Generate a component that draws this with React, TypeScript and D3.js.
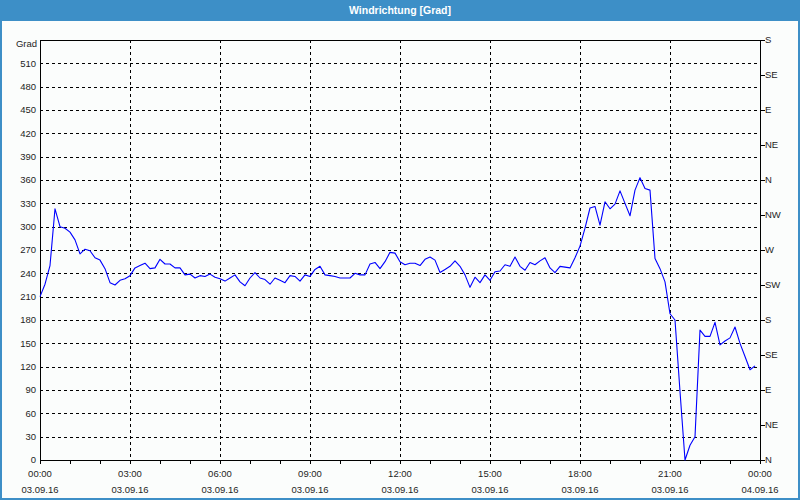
import React from 'react';
import * as d3 from 'd3';

const chartTitle = 'Windrichtung [Grad]';
const yAxisTitle = 'Grad';
const startTime = new Date(2016, 8, 3, 0, 0);
const endTime = new Date(2016, 8, 4, 0, 0);
const sampleMinutes = 10;

// wind direction in degrees, one sample every 10 minutes from 03.09.16 00:00
const windDir = [
  210, 226, 250, 323, 300, 298, 293, 283, 265, 271,
  269, 260, 257, 246, 228, 225, 231, 233, 237, 247,
  250, 253, 246, 247, 258, 252, 252, 247, 247, 238,
  239, 234, 237, 236, 239, 235, 233, 230, 234, 238,
  229, 224, 234, 241, 234, 232, 226, 234, 231, 228,
  237, 236, 230, 238, 236, 245, 249, 238, 237, 236,
  234, 234, 234, 240, 238, 238, 252, 254, 246, 255,
  267, 266, 255, 251, 253, 253, 250, 258, 261, 257,
  241, 245, 249, 256, 249, 238, 222, 235, 228, 238,
  231, 242, 243, 251, 249, 261, 249, 244, 254, 251,
  256, 260, 247, 241, 249, 248, 247, 260, 275, 298,
  324, 326, 302, 332, 323, 329, 346, 330, 314, 347,
  363, 349, 347, 259, 246, 229, 188, 180, 88, 0,
  19, 30, 167, 159, 159, 177, 148, 153, 157, 171,
  150, 133, 116, 121,
];

const leftTicks = [0, 30, 60, 90, 120, 150, 180, 210, 240, 270, 300, 330, 360, 390, 420, 450, 480, 510];
const gridValues = [30, 60, 90, 120, 150, 180, 210, 240, 270, 300, 330, 360, 390, 420, 450, 480, 510];
const compassTicks = [0, 45, 90, 135, 180, 225, 270, 315, 360, 405, 450, 495, 540];
const compassLabels = ['N', 'NE', 'E', 'SE', 'S', 'SW', 'W', 'NW', 'N', 'NE', 'E', 'SE', 'S'];
const timeLabels = ['00:00', '03:00', '06:00', '09:00', '12:00', '15:00', '18:00', '21:00', '00:00'];
const dateLabels = ['03.09.16', '03.09.16', '03.09.16', '03.09.16', '03.09.16', '03.09.16', '03.09.16', '03.09.16', '04.09.16'];

const W = 800;
const H = 500;
const L = 40;
const R = 760;
const T = 40;
const B = 460;
const font = '"Liberation Sans", Arial, sans-serif';
const textColor = '#1e1e1e';

export default function App() {
  const x = d3.scaleTime().domain([startTime, endTime]).range([L, R]);
  const y = d3.scaleLinear().domain([0, 540]).range([B, T]);

  const points = windDir.map((v, i) => ({
    t: d3.timeMinute.offset(startTime, i * sampleMinutes),
    v,
  }));
  const line = d3
    .line<{ t: Date; v: number }>()
    .x((d) => x(d.t))
    .y((d) => y(d.v));

  const hourTicks = d3.timeHour.range(startTime, d3.timeMinute.offset(endTime, 1));
  const majorTicks = d3.timeHour.every(3)!.range(startTime, d3.timeMinute.offset(endTime, 1));
  const innerMajor = majorTicks.slice(1, majorTicks.length - 1);

  return (
    <svg
      width={W}
      height={H}
      style={{ position: 'absolute', left: 0, top: 0, display: 'block' }}
      fontFamily={font}
    >
      <rect x={0} y={0} width={W} height={H} fill="#fbfdfc" />
      <rect x={0} y={0} width={W} height={21} fill="#3d8fc7" />
      <text
        x={400}
        y={14}
        textAnchor="middle"
        fill="#ffffff"
        fontSize={10.5}
        fontWeight="bold"
      >
        {chartTitle}
      </text>
      <rect x={1} y={1} width={W - 2} height={H - 2} fill="none" stroke="#3d8fc7" strokeWidth={2} />

      {/* horizontal grid */}
      {gridValues.map((v) => (
        <line
          key={'h' + v}
          x1={L}
          x2={R}
          y1={Math.round(y(v)) + 0.5}
          y2={Math.round(y(v)) + 0.5}
          stroke="#000"
          strokeWidth={1}
          strokeDasharray="3,3"
          shapeRendering="crispEdges"
        />
      ))}
      {/* vertical grid */}
      {innerMajor.map((t, i) => (
        <line
          key={'v' + i}
          x1={Math.round(x(t)) + 0.5}
          x2={Math.round(x(t)) + 0.5}
          y1={T}
          y2={B}
          stroke="#000"
          strokeWidth={1}
          strokeDasharray="3,3"
          shapeRendering="crispEdges"
        />
      ))}

      {/* frame */}
      <rect
        x={L + 0.5}
        y={T + 0.5}
        width={R - L}
        height={B - T}
        fill="none"
        stroke="#000"
        strokeWidth={1}
        shapeRendering="crispEdges"
      />

      {/* data line */}
      <path d={line(points) || ''} fill="none" stroke="#0000ff" strokeWidth={1.1} strokeLinejoin="round" />

      {/* left axis labels */}
      {leftTicks.map((v) => (
        <text
          key={'l' + v}
          x={36}
          y={y(v)}
          dy="0.35em"
          textAnchor="end"
          fontSize={9.5}
          fill={textColor}
        >
          {v}
        </text>
      ))}
      <text x={37} y={T + 4} dy="0.35em" textAnchor="end" fontSize={9.5} fill={textColor}>
        {yAxisTitle}
      </text>

      {/* right compass axis */}
      {compassTicks.map((v, i) => (
        <g key={'r' + i}>
          <line
            x1={R + 0.5}
            x2={R + 4.5}
            y1={Math.round(y(v)) + 0.5}
            y2={Math.round(y(v)) + 0.5}
            stroke="#000"
            shapeRendering="crispEdges"
          />
          <text x={R + 5} y={y(v)} dy="0.35em" fontSize={9.5} fill={textColor}>
            {compassLabels[i]}
          </text>
        </g>
      ))}

      {/* bottom axis ticks */}
      {hourTicks.map((t, i) => (
        <line
          key={'bt' + i}
          x1={Math.round(x(t)) + 0.5}
          x2={Math.round(x(t)) + 0.5}
          y1={B}
          y2={B + 4}
          stroke="#000"
          shapeRendering="crispEdges"
        />
      ))}
      {majorTicks.map((t, i) => (
        <g key={'bl' + i}>
          <text x={x(t)} y={477} textAnchor="middle" fontSize={9.5} fill={textColor}>
            {timeLabels[i]}
          </text>
          <text x={x(t)} y={493} textAnchor="middle" fontSize={9.5} fill={textColor}>
            {dateLabels[i]}
          </text>
        </g>
      ))}
    </svg>
  );
}
